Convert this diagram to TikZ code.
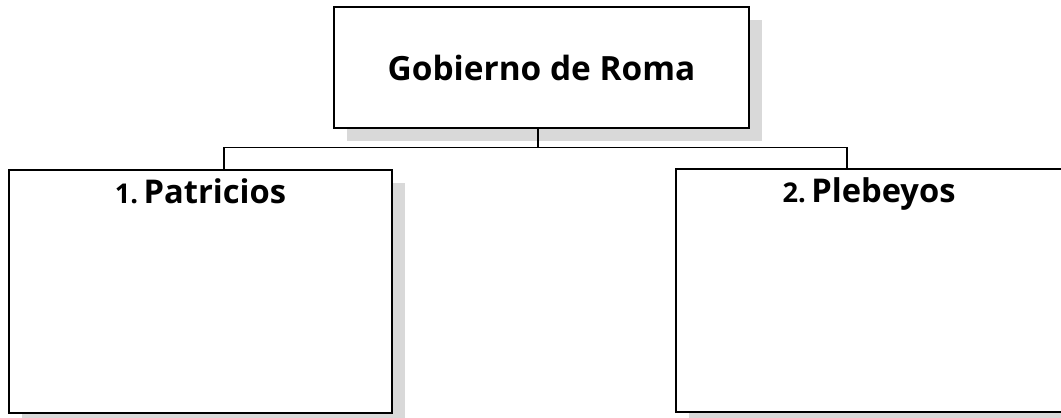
\documentclass[tikz,border=0pt]{standalone}
\usepackage{fontspec}
\setsansfont{Open Sans}
\usetikzlibrary{shadows, positioning, calc}
\definecolor{sombra}{HTML}{D9D9D9}
% numero pequeno delante del titulo
\newcommand{\numgrupo}[1]{{\fontsize{15.5pt}{17pt}\selectfont #1}}
\tikzset{
  % caja con sombra gris
  caja/.style={draw=black, line width=0.85pt, fill=white, inner sep=0pt,
    drop shadow={shadow xshift=0.26cm, shadow yshift=-0.26cm, fill=sombra, opacity=1}},
  % caja superior
  cajagob/.style={caja, minimum width=8.3cm, minimum height=2.42cm,
    font=\sffamily\bfseries\fontsize{19pt}{22pt}\selectfont},
  % cajas de los grupos
  cajagrupo/.style={caja, minimum width=7.66cm, minimum height=4.86cm},
  % titulo de grupo
  titulo/.style={font=\sffamily\bfseries\fontsize{18.6pt}{22pt}\selectfont, inner sep=0pt},
  % lineas del organigrama
  conector/.style={draw=black, line width=0.7pt},
}
\begin{document}
\begin{tikzpicture}
  \clip (0,0) rectangle (21.22,-8.34);
  \node[cajagob] (gob) at (10.83,-1.35) {Gobierno de Roma};
  \node[cajagrupo] (pat) at (4.01,-5.83) {};
  \node[cajagrupo, minimum width=7.72cm] (ple) at (17.38,-5.81) {};
  \node[titulo, anchor=base] (patT) at ([yshift=-0.68cm]pat.north) {\numgrupo{1.}\,Patricios};
  \node[titulo, anchor=base] (pleT) at ([yshift=-0.68cm]ple.north) {\numgrupo{2.}\,Plebeyos};
  \coordinate (rama) at ([xshift=-0.07cm, yshift=-0.38cm]gob.south);
  \draw[conector] ([xshift=-0.07cm]gob.south) -- (rama);
  \draw[conector] ([xshift=0.47cm]pat.north) |- (rama) -| ([xshift=-0.44cm]ple.north);
\end{tikzpicture}
\end{document}
